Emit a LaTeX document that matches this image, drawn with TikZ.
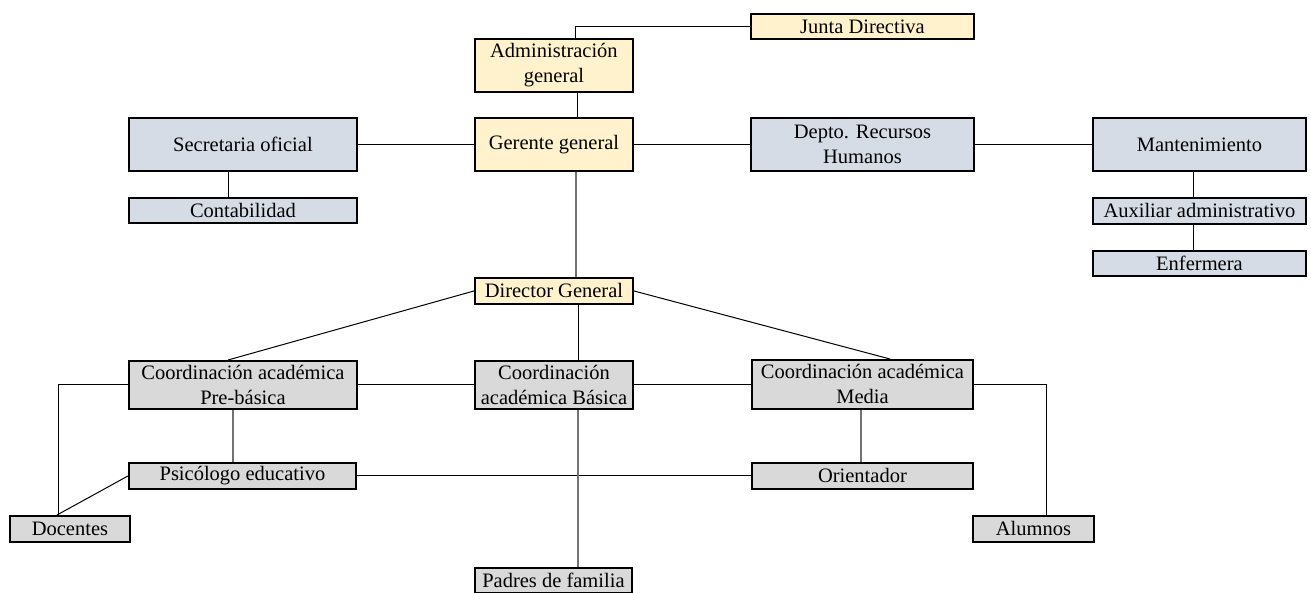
\documentclass[tikz,border=0pt]{standalone}
\usepackage{fontspec}
\setmainfont{Liberation Serif}
\usetikzlibrary{calc}
\definecolor{yel}{HTML}{FFF2CC}
\definecolor{blu}{HTML}{D6DCE5}
\definecolor{gry}{HTML}{D9D9D9}
\tikzset{
  box/.style={draw=black, line width=1.9pt, inner sep=0pt, align=center, anchor=north west,
    font=\fontsize{20.5}{25}\selectfont},
  ybox/.style={box, fill=yel},
  bbox/.style={box, fill=blu},
  gbox/.style={box, fill=gry},
  link/.style={draw=black, line width=1pt},
  glink/.style={draw=black!55, line width=1.2pt},
}
\newcommand{\bx}[7]{\node[#1, minimum width=#5pt-#3pt, minimum height=#6pt-#4pt] (#2) at (#3,#4) {#7};}
\begin{document}
\begin{tikzpicture}[x=1pt,y=-1pt]
\useasboundingbox (0,0) rectangle (1311,593);
% boxes
\bx{ybox}{junta}{750}{13}{973}{38}{Junta Directiva}
\bx{ybox}{admin}{474}{38}{632}{91}{Administración\\general}
\bx{ybox}{gerente}{474}{117}{632}{170}{Gerente general}
\bx{bbox}{depto}{750}{117}{973}{170}{Depto. Recursos\\Humanos}
\bx{bbox}{secre}{128}{117}{356}{170}{Secretaria oficial}
\bx{bbox}{conta}{128}{197}{356}{222}{Contabilidad}
\bx{bbox}{mant}{1092}{117}{1305}{170}{Mantenimiento}
\bx{bbox}{aux}{1092}{197}{1305}{223}{Auxiliar administrativo}
\bx{bbox}{enf}{1092}{250}{1305}{275}{Enfermera}
\bx{ybox}{dir}{474}{277}{632}{303}{Director General}
\bx{gbox}{pre}{128}{360}{356}{408}{Coordinación académica\\Pre-básica}
\bx{gbox}{bas}{474}{360}{632}{408}{Coordinación\\académica Básica}
\bx{gbox}{med}{751}{359}{972}{408}{Coordinación académica\\Media}
\bx{gbox}{psi}{128}{462}{355}{488}{Psicólogo educativo}
\bx{gbox}{ori}{751}{462}{972}{488}{Orientador}
\bx{gbox}{doc}{9}{515}{129}{541}{Docentes}
\bx{gbox}{alu}{972}{515}{1093}{541}{Alumnos}
\bx{gbox}{pad}{474}{567}{631}{592}{Padres de familia}
% connectors
\draw[link] ($(admin.north west)+(101,0)$) |- (junta.west);
\draw[link] ($(admin.south west)+(103,0)$) -- ($(gerente.north west)+(103,0)$);
\draw[link] (gerente.west) -- (gerente.west -| secre.east);
\draw[link] (gerente.east) -- (gerente.east -| depto.west);
\draw[link] (depto.east) -- (depto.east -| mant.west);
\draw[link] ($(secre.south west)+(100,0)$) -- ($(conta.north west)+(100,0)$);
\draw[link] ($(mant.south west)+(101,0)$) -- ($(aux.north west)+(101,0)$);
\draw[link] ($(aux.south west)+(101,0)$) -- ($(enf.north west)+(101,0)$);
\draw[glink] ($(gerente.south west)+(102,0)$) -- ($(dir.north west)+(102,0)$);
\draw[link] (dir.west) -- ($(pre.north west)+(100,0)$);
\draw[link] (dir.east) -- ($(med.north west)+(139,0)$);
\draw[link] ($(dir.south west)+(104,0)$) -- ($(bas.north west)+(104,0)$);
\draw[link] (pre.east) -- (pre.east -| bas.west);
\draw[link] (bas.east) -- (bas.east -| med.west);
\draw[link] (pre.west) -| ($(doc.north west)+(49,0)$);
\draw[link] ($(doc.north west)+(48,0)$) -- (psi.west);
\draw[glink] ($(pre.south west)+(105,0)$) -- ($(psi.north west)+(105,0)$);
\draw[link] (psi.east) -- (psi.east -| ori.west);
\draw[glink] ($(med.south west)+(110,0)$) -- ($(ori.north west)+(110,0)$);
\draw[link] (med.east) -| ($(alu.north west)+(74,0)$);
\draw[glink] ($(bas.south west)+(104,0)$) -- ($(pad.north west)+(104,0)$);
\end{tikzpicture}
\end{document}
